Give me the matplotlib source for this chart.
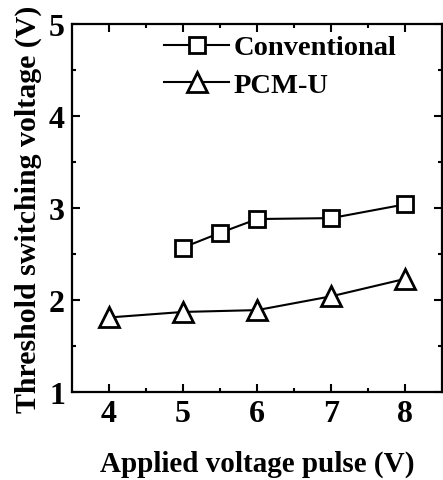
import matplotlib
matplotlib.use("Agg")
import matplotlib.pyplot as plt

conv_x = [5, 5.5, 6, 7, 8]
conv_y = [2.57, 2.73, 2.88, 2.89, 3.04]
pcm_x = [4, 5, 6, 7, 8]
pcm_y = [1.81, 1.87, 1.89, 2.04, 2.23]

plt.rcParams['font.family'] = ['Liberation Serif']
plt.rcParams['font.weight'] = 'bold'

fig = plt.figure(figsize=(4.43, 4.81), dpi=100)
ax = fig.add_axes([0.1625, 0.183, 0.836, 0.765])

ax.plot(conv_x, conv_y, '-s', color='black', mfc='white', ms=11, mew=2, lw=1.5,
        label='Conventional')
ax.plot(pcm_x, pcm_y, '-^', color='black', mfc='white', ms=15, mew=2, lw=1.5,
        label='PCM-U')

ax.set_xlim(3.5, 8.5)
ax.set_ylim(1, 5)
ax.set_xticks([4, 5, 6, 7, 8])
ax.set_xticks([4.5, 5.5, 6.5, 7.5], minor=True)
ax.set_yticks([1, 2, 3, 4, 5])
ax.set_yticks([1.5, 2.5, 3.5, 4.5], minor=True)
ax.tick_params(which='both', direction='in', top=True, right=True, width=1.5)
ax.tick_params(which='major', length=6, labelsize=23, pad=5)
ax.tick_params(which='minor', length=3)
for s in ax.spines.values():
    s.set_linewidth(1.6)

ax.set_xlabel('Applied voltage pulse (V)', fontsize=21, fontweight='bold', labelpad=16)
ax.set_ylabel('Threshold switching voltage (V)', fontsize=21.5, fontweight='bold', labelpad=5)

leg = ax.legend(loc='upper right', frameon=False, fontsize=20.5, handlelength=2.3,
                handletextpad=0.15, borderaxespad=0.1, labelspacing=0.4,
                bbox_to_anchor=(0.915, 1.01))
for t in leg.get_texts():
    t.set_fontweight('bold')

fig.savefig('out.png', dpi=100)
